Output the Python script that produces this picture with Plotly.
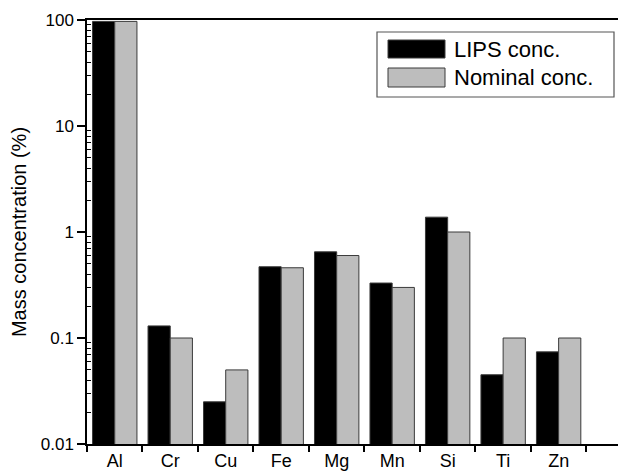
import plotly.graph_objects as go

elements = ["Al", "Cr", "Cu", "Fe", "Mg", "Mn", "Si", "Ti", "Zn"]
lips_conc = [97, 0.13, 0.025, 0.47, 0.65, 0.33, 1.38, 0.045, 0.074]
nominal_conc = [97, 0.10, 0.05, 0.46, 0.60, 0.30, 1.0, 0.10, 0.10]
y_tick_vals = [0.01, 0.1, 1, 10, 100]
y_tick_text = ["0.01", "0.1", "1", "10", "100"]
series_names = ["LIPS conc.", "Nominal conc."]
series_colors = ["#000000", "#bdbdbd"]

W, H = 618, 472
ML, MR, MT, MB = 87, 0, 20, 28
PW, PH = W - ML - MR, H - MT - MB

def px(x):
    return (x - ML) / PW

def py(y):
    return 1 - (y - MT) / PH

FONT = "Liberation Sans, Arial, Helvetica, sans-serif"

fig = go.Figure()
for name, vals, col in zip(series_names, [lips_conc, nominal_conc], series_colors):
    fig.add_trace(go.Bar(
        x=elements, y=vals, name=name, showlegend=False,
        marker=dict(color=col, line=dict(color="#3a3a3a", width=1)),
    ))

minor_vals = [m * 10 ** e for e in range(-2, 2) for m in range(2, 10)]

fig.update_layout(
    width=W, height=H,
    margin=dict(l=ML, r=MR, t=MT, b=MB),
    paper_bgcolor="white", plot_bgcolor="white",
    barmode="group", bargap=0.2, bargroupgap=0,
    font=dict(family=FONT, color="black"),
    xaxis=dict(
        range=[-0.5, 9.07], tickson="boundaries", ticks="outside", ticklen=6,
        tickwidth=1.5, tickcolor="black", showline=True, linecolor="black",
        linewidth=1.5, mirror=True, showgrid=False, zeroline=False,
        tickfont=dict(size=18, family=FONT, color="black"),
    ),
    yaxis=dict(
        type="log", range=[-2, 2], tickvals=y_tick_vals, ticktext=y_tick_text,
        ticks="outside", ticklen=8, tickwidth=1.5, tickcolor="black",
        showline=True, linecolor="black", linewidth=1.5, showgrid=False,
        zeroline=False, tickfont=dict(size=17, family=FONT, color="black"),
        minor=dict(tickvals=minor_vals, ticks="inside", ticklen=4,
                   tickwidth=1, tickcolor="black", showgrid=False),
        title=dict(text="Mass concentration (%)", standoff=9,
                   font=dict(size=20, family=FONT, color="black")),
    ),
)

# manual legend (box with wide swatches)
shapes = [dict(type="rect", xref="paper", yref="paper",
               x0=px(377), x1=px(614), y0=py(97), y1=py(32),
               line=dict(color="#555555", width=1.2), fillcolor="white", layer="above")]
rows = [(40, 58), (68, 87)]
annotations = []
for (t, b), name, col in zip(rows, series_names, series_colors):
    shapes.append(dict(type="rect", xref="paper", yref="paper",
                       x0=px(388), x1=px(445), y0=py(b), y1=py(t),
                       line=dict(color="#3a3a3a", width=1), fillcolor=col, layer="above"))
    annotations.append(dict(xref="paper", yref="paper", x=px(452), y=py((t + b) / 2),
                            text=name, showarrow=False, xanchor="left", yanchor="middle",
                            font=dict(size=22, family=FONT, color="black")))
fig.update_layout(shapes=shapes, annotations=annotations)

fig.write_html("out.html")
